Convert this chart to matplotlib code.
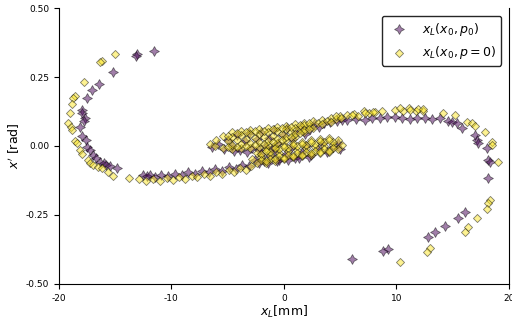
import matplotlib
matplotlib.use("Agg")
import matplotlib.pyplot as plt
import numpy as np

plt.rcParams['axes.unicode_minus'] = False

# ---- star series: x_L(x0, p0) ----
star_left = [(-11.56,0.344),(-13.07,0.333),(-13.16,0.326),(-15.2,0.268),(-16.44,0.225),(-17.07,0.203),
             (-17.51,0.174),(-17.96,0.130),(-17.96,0.120),(-17.7,0.100),(-17.8,0.090),(-18.13,0.069),
             (-17.96,0.036),(-17.6,0.020),(-17.51,-0.004),(-17.24,-0.014),(-16.98,-0.033),(-16.7,-0.045),
             (-16.36,-0.058),(-16.0,-0.062),(-15.82,-0.069),(-15.5,-0.072),(-14.84,-0.080),(-12.53,-0.105),
             (-11.91,-0.105)]
star_L = [(-12.2,-0.108),(-11.5,-0.112),(-10.9,-0.104),(-10.3,-0.110),(-9.7,-0.101),(-9.1,-0.106),
          (-8.5,-0.096),(-7.9,-0.101),(-7.3,-0.090),(-6.7,-0.095),(-6.1,-0.083),(-5.5,-0.089),
          (-4.9,-0.076),(-4.3,-0.082),(-3.7,-0.069),(-3.1,-0.074)]
star_M = [(-2.6,-0.050),(-2.0,-0.030),(-1.8,-0.055),(-1.2,-0.038),(-0.8,-0.018),(-0.4,-0.050),
          (0.2,-0.028),(0.6,-0.008),(1.0,-0.042),(1.6,-0.020),(2.0,0.000),(2.4,-0.034),(3.0,-0.012),
          (3.4,0.010),(3.8,-0.022),(4.4,-0.002),(4.8,0.012),(5.0,-0.010),
          (-2.2,-0.062),(-1.4,-0.062),(-0.6,-0.056),(0.4,-0.050),(1.3,-0.044),(2.2,-0.040)]
star_U = [(-6.4,-0.004),(-5.9,0.008),(-5.3,-0.012),(-5.0,0.020),(-4.6,0.000),(-4.2,0.040),(-3.9,-0.014),
          (-3.5,0.018),(-3.1,0.048),(-2.8,-0.008),(-2.4,0.024),(-2.0,0.052),(-1.7,0.000),(-1.3,0.030),
          (-0.9,0.058),(-0.5,0.012),(-0.1,0.040),(0.3,0.064),(0.7,0.026),(1.1,0.050),(1.5,0.070),
          (1.9,0.044),(2.3,0.062),(2.7,0.078),(3.1,0.068),(3.6,0.082),(4.1,0.088),(4.7,0.090),(5.2,0.094),
          (-4.4,-0.018),(-3.3,-0.020),(-2.2,-0.016),(-1.1,-0.008)]
star_top = [(5.6,0.094),(6.4,0.098),(7.2,0.094),(7.8,0.100),(8.5,0.101),(9.2,0.104),(9.9,0.105),
            (10.5,0.100),(11.2,0.098),(11.8,0.103),(12.5,0.101),(13.2,0.098),(13.9,0.101),(14.6,0.092),
            (14.9,0.088)]
star_right = [(15.38,0.083),(15.82,0.065),(16.98,0.040),(17.16,0.022),(17.24,0.011),(18.04,-0.007),
              (18.13,-0.051),(18.31,-0.058),(18.13,-0.116),(16.09,-0.239),(15.47,-0.261),(14.31,-0.290),
              (13.42,-0.312),(12.8,-0.330),(9.24,-0.373),(8.8,-0.380),(6.04,-0.409)]

# ---- diamond series: x_L(x0, p=0) ----
diam_left = [(-15.02,0.333),(-16.18,0.308),(-16.36,0.304),(-17.78,0.232),(-18.58,0.181),(-18.76,0.174),
             (-18.84,0.152),(-19.02,0.120),(-19.2,0.083),(-18.93,0.069),(-18.84,0.058),(-18.58,0.018),
             (-18.4,0.011),(-18.13,-0.014),(-17.96,-0.029),(-17.42,-0.051),(-17.24,-0.062),(-16.98,-0.069),
             (-16.53,-0.076),(-16.18,-0.080),(-15.64,-0.094),(-15.2,-0.109),(-13.78,-0.116)]
diam_L = [(-12.9,-0.118),(-12.3,-0.126),(-11.6,-0.119),(-11.0,-0.127),(-10.4,-0.117),(-9.9,-0.124),
          (-9.3,-0.113),(-8.8,-0.120),(-8.2,-0.108),(-7.7,-0.114),(-7.1,-0.101),(-6.6,-0.108),
          (-6.0,-0.094),(-5.5,-0.102),(-4.9,-0.087),(-4.4,-0.095),(-3.9,-0.079),(-3.4,-0.087),(-2.9,-0.072)]
diam_M = [(-2.4,-0.026),(-1.6,-0.012),(-0.8,-0.003),(0.0,0.005),(0.8,0.011),(1.6,0.016),(2.4,0.021),
          (3.2,0.026),(4.0,0.029),(4.8,0.022),
          (-2.8,-0.048),(-2.0,-0.040),(-1.2,-0.033),(-0.4,-0.025),(0.4,-0.019),(1.2,-0.014),(2.0,-0.008),
          (2.8,-0.004),(3.6,0.001),(4.4,0.004),(5.2,0.004),
          (-2.4,-0.062),(-1.6,-0.060),(-0.8,-0.053),(0.0,-0.047),(0.8,-0.041),(1.6,-0.036),(2.4,-0.031),
          (3.2,-0.026),(4.0,-0.022),(4.8,-0.012),
          (-2.0,-0.029),(-1.2,-0.020),(-0.4,-0.012),(0.4,-0.006),(1.2,0.000),(2.0,0.005),(2.8,0.009),
          (3.6,0.013),(4.4,0.014),
          (-2.0,-0.051),(-1.2,-0.046),(-0.4,-0.038),(0.4,-0.032),(1.2,-0.027),(2.0,-0.021),(2.8,-0.017),
          (3.6,-0.011),(4.4,-0.006)]
diam_M2 = [(-1.6,-0.018),(-0.8,-0.008),(0.0,-0.002),(0.8,0.004),(1.6,0.009),(2.4,0.014),(3.2,0.019),
           (4.0,0.022),
           (-1.6,-0.054),(-0.8,-0.048),(0.0,-0.042),(0.8,-0.036),(1.6,-0.031),(2.4,-0.026),(3.2,-0.021),
           (4.0,-0.017)]
diam_U = [(-6.6,0.006),(-6.1,0.000),(-6.0,0.022),
          (-5.4,0.036),(-4.6,0.049),(-3.8,0.054),(-3.0,0.058),(-2.2,0.061),(-1.4,0.066),(-0.6,0.068),
          (0.2,0.073),(1.0,0.078),(1.8,0.084),(2.6,0.091),(3.4,0.096),(4.2,0.101),(5.0,0.107),(5.6,0.111),
          (-5.0,0.017),(-4.2,0.021),(-3.4,0.024),(-2.6,0.028),(-1.8,0.031),(-1.0,0.037),(-0.2,0.043),
          (0.6,0.051),(1.4,0.061),(2.2,0.073),(3.0,0.083),(3.8,0.090),(4.6,0.097),
          (-5.4,-0.006),(-4.6,-0.011),(-3.8,-0.009),(-3.0,-0.006),(-2.2,-0.003),(-1.4,0.002),(-0.6,0.010),
          (0.2,0.021),(1.0,0.033),(1.8,0.050),(2.6,0.065),(3.4,0.078),(4.2,0.087),
          (-4.6,0.034),(-3.8,0.039),(-3.0,0.042),(-2.2,0.045),(-1.4,0.050),(-0.6,0.054),(0.2,0.060),
          (1.0,0.066),(1.8,0.075),
          (-4.6,0.004),(-3.8,0.007),(-3.0,0.010),(-2.2,0.013),(-1.4,0.018),(-0.6,0.025),(0.2,0.034),
          (1.0,0.044),(1.8,0.059)]
diam_U2 = [(-5.0,0.038),(-4.2,0.046),(-3.4,0.049),(-2.6,0.053),(-1.8,0.056),(-1.0,0.061),(-0.2,0.064),
           (0.6,0.070),(1.4,0.076),(2.2,0.084),
           (-5.0,-0.004),(-4.2,-0.004),(-3.4,-0.001),(-2.6,0.003),(-1.8,0.006),(-1.0,0.013),(-0.2,0.022),
           (0.6,0.032),(1.4,0.046),(2.2,0.062)]
diam_top = [(4.6,0.108),(5.1,0.100),(6.2,0.116),(6.6,0.110),(7.1,0.126),(7.6,0.120),(8.1,0.124),
            (9.9,0.132),(10.6,0.127),(11.1,0.136),(11.7,0.128),(12.4,0.126)]
diam_right = [(6.04,0.112),(7.2,0.120),(7.91,0.123),(8.71,0.127),(10.31,0.138),(11.2,0.130),(11.91,0.134),
              (12.36,0.134),(14.13,0.120),(15.2,0.112),(16.27,0.087),(16.71,0.083),(16.98,0.072),
              (17.87,0.051),(18.49,0.014),(18.49,0.004),(19.02,-0.058),(18.31,-0.196),(18.13,-0.207),
              (18.04,-0.228),(17.16,-0.261),(16.36,-0.293),(16.09,-0.312),(12.98,-0.370),(12.71,-0.384),
              (10.31,-0.420)]

x_ticks = [-20, -10, 0, 10, 20]
y_ticks = [-0.50, -0.25, 0.00, 0.25, 0.50]

stars = np.array(star_left + star_L + star_M + star_U + star_top + star_right)
diams = np.array(diam_left + diam_L + diam_M + diam_M2 + diam_U + diam_U2 + diam_top + diam_right)

fig = plt.figure(figsize=(5.12, 3.23), dpi=100)
ax = fig.add_axes([0.115, 0.121, 0.879, 0.854])

purple = '#440154'
yellow = '#fde725'
ax.scatter(stars[:, 0], stars[:, 1], marker=(4, 1, 0), s=50, c=purple, alpha=0.5,
           edgecolors='k', linewidths=0.6, label=r'$x_L(x_0, p_0)$', zorder=2)
ax.scatter(diams[:, 0], diams[:, 1], marker='D', s=17, c=yellow, alpha=0.5,
           edgecolors='k', linewidths=0.6, label=r'$x_L(x_0, p = 0)$', zorder=3)

ax.set_xlim(-20, 20)
ax.set_ylim(-0.5, 0.5)
ax.set_xticks(x_ticks)
ax.set_xticklabels([f'{v:d}' for v in x_ticks])
ax.set_yticks(y_ticks)
ax.set_yticklabels([f'{v:.2f}' for v in y_ticks])
ax.tick_params(labelsize=6.5, length=3.5, width=0.8)
ax.spines['top'].set_visible(False)
ax.set_xlabel(r'$x_L$[mm]', fontsize=9, labelpad=1)
ax.set_ylabel(r"$x'$ [rad]", fontsize=9, labelpad=3)

leg = ax.legend(loc='upper right', fontsize=9, frameon=True, borderaxespad=0.6)
leg.get_frame().set_edgecolor('0.15')
leg.get_frame().set_alpha(1.0)

fig.savefig('out.png', dpi=100)
